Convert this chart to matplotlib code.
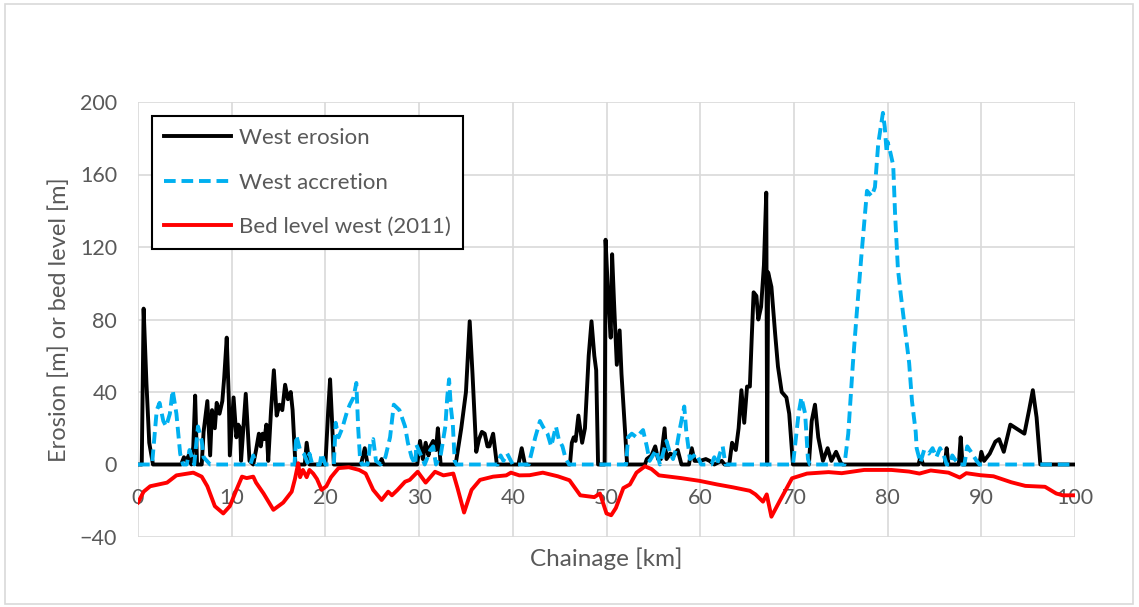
import matplotlib.pyplot as plt
from matplotlib.patches import Rectangle

# valores (chainage en km)
ero_km = [0, 0.4, 0.6, 0.9, 1.2, 1.6, 4.6, 4.9, 5.2, 5.4, 5.7, 5.9, 6.1, 6.3, 6.8, 7.0,
          7.4, 7.7, 7.9, 8.2, 8.4, 8.7, 9.0, 9.2, 9.47, 9.7, 9.8, 10.2, 10.5, 10.7, 10.9,
          11.0, 11.5, 11.8, 11.9, 12.3, 12.6, 12.9, 13.1, 13.3, 13.5, 13.7, 13.9, 14.2,
          14.5, 14.8, 15.1, 15.4, 15.7, 16.0, 16.3, 16.5, 16.8, 17.8, 18.0, 18.3, 20.0,
          20.3, 20.5, 20.7, 20.9, 23.8, 24.2, 24.5, 25.8, 26.0, 26.2, 29.8, 30.1, 30.4,
          30.7, 31.0, 31.2, 31.5, 31.8, 32.0, 32.3, 33.9, 34.5, 35.0, 35.4, 35.7, 36.1,
          36.4, 36.7, 37.0, 37.3, 37.5, 37.9, 38.3, 40.6, 40.95, 41.3, 46.1, 46.3, 46.5,
          46.7, 47.0, 47.4, 47.7, 48.1, 48.4, 48.7, 48.9, 49.1, 49.8, 49.9, 50.2, 50.45,
          50.6, 50.8, 51.1, 51.4, 51.6, 51.9, 52.2, 54.1, 54.3, 54.8, 55.2, 55.5, 55.8,
          56.2, 56.4, 56.8, 57.2, 57.6, 58.0, 58.8, 59.1, 59.4, 60.0, 60.6, 61.0, 61.5,
          62.3, 62.6, 63.1, 63.4, 63.8, 64.1, 64.4, 64.7, 65.0, 65.3, 65.5, 65.7, 66.0,
          66.2, 66.5, 66.8, 67.05, 67.15, 67.25, 67.6, 68.0, 68.3, 68.7, 69.2, 69.5, 69.9,
          71.6, 71.9, 72.25, 72.6, 73.1, 73.6, 74.0, 74.5, 75.0, 75.2, 83.3, 83.5, 83.8,
          86.1, 86.3, 86.5, 87.6, 87.8, 88.0, 89.8, 90.0, 90.3, 90.9, 91.5, 91.9, 92.4,
          93.1, 94.6, 95.1, 95.5, 95.9, 96.3, 100]
ero_val = [0, 0, 86, 45, 12, 0, 0, 4, 2, 5, 0, 10, 38, 0, 0, 18,
           35, 5, 30, 20, 34, 28, 35, 48, 70, 35, 5, 37, 15, 22, 20,
           2, 39, 12, 2, 0, 8, 17, 10, 17, 14, 22, 2, 30,
           52, 27, 33, 30, 44, 36, 40, 30, 0, 0, 12, 0, 0,
           30, 47, 25, 0, 0, 9, 0, 0, 3, 0, 0, 13, 3,
           12, 5, 10, 13, 8, 20, 0, 0, 20, 40, 79, 50, 7,
           14, 18, 17, 10, 10, 17, 0, 0, 9, 0, 0, 12, 15,
           13, 27, 12, 20, 60, 79, 60, 52, 0, 0, 124, 90, 70,
           116, 90, 55, 74, 50, 25, 0, 0, 3, 5, 10, 3, 3,
           20, 3, 6, 5, 8, 0, 0, 9, 2, 2, 3, 2, 0,
           2, 0, 0, 12, 8, 20, 41, 23, 43, 43, 70, 95, 93,
           80, 87, 110, 150, 0, 106, 98, 72, 54, 40, 37, 28, 0,
           0, 24, 33, 15, 2, 9, 2, 7, 1, 0, 0, 4, 0,
           0, 9, 0, 0, 15, 0, 0, 7, 2, 6, 12.6, 14, 7,
           22, 17, 30, 41, 26, 0, 0]

acc_km = [0, 1.5, 2.0, 2.3, 2.7, 3.0, 3.4, 3.7, 4.1, 4.5, 4.8, 5.2, 5.5, 6.0, 6.4, 6.8,
          7.0, 7.7, 12.0, 12.3, 12.6, 16.7, 16.9, 17.3, 17.7, 18.1, 18.3, 18.6, 19.4,
          19.6, 20.0, 20.9, 21.1, 21.4, 21.8, 22.3, 22.6, 23.0, 23.3, 23.5, 23.7, 23.9,
          24.5, 24.8, 25.1, 25.4, 25.9, 26.4, 26.9, 27.3, 27.9, 28.5, 28.8, 29.2, 29.6,
          29.7, 30.2, 30.6, 31.2, 31.5, 31.8, 32.3, 32.8, 33.0, 33.2, 33.4, 33.6, 33.8,
          34.0, 38.4, 38.7, 39.0, 39.4, 39.7, 40.0, 41.7, 42.4, 42.9, 43.2, 43.7, 44.1,
          44.6, 44.9, 45.3, 45.6, 46.0, 52.1, 52.3, 52.7, 53.2, 53.9, 54.3, 54.6, 55.3,
          55.7, 56.4, 56.8, 57.1, 57.5, 57.8, 58.3, 58.5, 58.9, 59.6, 60.1, 61.2, 61.5,
          61.8, 62.1, 62.4, 62.7, 69.9, 70.5, 70.8, 71.2, 71.5, 71.7, 75.4, 75.8, 76.3,
          76.7, 77.2, 77.8, 78.3, 78.65, 79.0, 79.5, 79.7, 79.9, 80.0, 80.3, 80.6, 80.8,
          81.1, 81.4, 81.8, 82.3, 82.6, 83.0, 83.1, 83.5, 83.9, 84.4, 84.8, 85.2, 85.6,
          86.0, 86.3, 86.7, 86.9, 87.3, 87.6, 88.2, 88.5, 88.9, 89.5, 89.8, 100]
acc_val = [0, 0, 30, 34, 24, 21, 28, 41, 28, 6, 0, 0, 8, 0, 21, 13,
           4, 0, 0, 5, 0, 0, 16, 8, 6, 1, 6, 0, 0,
           6, 0, 0, 23, 15, 20, 29, 33, 37, 45, 20, 3, 0,
           0, 12, 14, 2, 0, 4, 15, 33, 30, 21, 12, 4, 0,
           11, 5, 0, 8, 10, 0, 5, 21, 37, 47, 31, 22, 2,
           0, 0, 5, 2, 6, 3, 0, 0, 15, 24, 21, 17, 10,
           21, 14, 10, 4, 0, 0, 15, 17, 15, 19, 10, 2, 8,
           0, 13, 6, 3, 10, 19, 32, 19, 3, 6, 0, 0, 4,
           0, 6, 10, 0, 0, 28, 37, 28, 3, 0, 0, 17, 56,
           83, 115, 151, 148, 153, 177, 194, 186, 172, 178, 172, 165, 138,
           108, 94, 77, 56, 35, 18, 9, 1, 8, 6, 9, 4, 9,
           5, 0, 0, 5, 2, 0, 0, 10, 7, 2, 0, 0]

bed_km = [0, 0.6, 1.3, 3.1, 4.1, 5.9, 6.8, 7.4, 8.2, 9.1, 9.8, 10.5, 11.1, 11.6, 12.3,
          12.6, 13.4, 14.45, 15.5, 16.4, 16.75, 17.1, 17.3, 17.6, 18.0, 18.3, 18.7, 19.1,
          19.6, 20.1, 20.6, 21.4, 22.5, 23.6, 24.3, 25.1, 26.0, 26.7, 27.1, 27.7, 28.5,
          29.0, 29.85, 30.7, 31.7, 32.6, 33.65, 34.1, 34.8, 35.6, 36.5, 37.9, 39.3, 39.8,
          40.7, 41.8, 43.2, 44.8, 46.05, 47.2, 48.7, 49.3, 50.0, 50.5, 51.0, 51.8, 52.5,
          53.2, 54.1, 54.8, 55.6, 57.95, 59.9, 61.8, 63.5, 65.3, 65.9, 66.7, 67.1, 67.6,
          68.5, 69.8, 71.4, 73.7, 75.1, 77.5, 80.4, 82.3, 83.4, 84.6, 86.5, 87.7, 88.4,
          89.9, 91.3, 93.2, 94.7, 96.8, 98.0, 98.7, 100]
bed_val = [-21, -15, -12, -10, -6, -4.5, -6.7, -12, -23, -27, -23, -14, -6.7, -7.5, -6.7,
           -10, -16, -25, -21, -15, -8, 0.7, -7, -3, -7, -3, -5, -8,
           -14, -12, -7, -2, -1.5, -3, -5, -14, -19.6, -15, -17, -14, -9.5,
           -8.5, -4, -10, -4, -6, -5, -13, -26.5, -14, -8.5, -6.7, -6, -4.5,
           -6, -5.9, -4.5, -6.5, -8.7, -17, -18, -16, -27, -28, -24, -13, -11,
           -4.5, -1, -2.5, -6, -7.5, -9, -11, -12.6, -14.5, -16.5, -20.5, -16.5, -28.8,
           -20, -7.6, -5, -4.2, -4.8, -3, -3, -3.9, -5, -3.3, -4.5, -7.2, -4.8,
           -5.9, -6.5, -9.8, -11.8, -12.3, -16, -17, -17]

TEXT = "#595959"
GRID = "#d9d9d9"

plt.rcParams["font.family"] = ["Lato", "DejaVu Sans"]

fig = plt.figure(figsize=(11.39, 6.07), dpi=100)
ax = fig.add_axes([138 / 1139, 1 - 537 / 607, 937 / 1139, 435 / 607])

ax.plot(ero_km, ero_val, color="black", lw=2.8, label="West erosion", zorder=3)
ax.plot(acc_km, acc_val, color="#00B0F0", lw=2.8, dashes=(3.0, 1.5),
        label="West accretion", zorder=3)
ax.plot(bed_km, bed_val, color="#FF0000", lw=2.8, label="Bed level west (2011)", zorder=3)

ax.set_xlim(0, 100)
ax.set_ylim(-40, 200)
ax.set_xticks(range(0, 101, 10))
ax.set_yticks(range(-40, 201, 40))
ax.grid(True, color=GRID, lw=1.2)
ax.set_axisbelow(True)
for side in ["top", "right", "left"]:
    ax.spines[side].set_visible(False)
# las etiquetas del eje x van pegadas a y=0, como en Excel
ax.spines["bottom"].set_position(("data", 0))
ax.spines["bottom"].set_visible(False)
ax.tick_params(axis="both", length=0, colors=TEXT, labelsize=15.5)
ax.tick_params(axis="x", pad=17)
ax.tick_params(axis="y", pad=15)

ax.set_xlabel("Chainage [km]", color=TEXT, fontsize=17.5)
ax.set_ylabel("Erosion [m] or bed level [m]", color=TEXT, fontsize=17)
ax.xaxis.set_label_coords(0.5, -0.025)
ax.yaxis.set_label_coords(-0.073, 0.5)

leg = ax.legend(loc="upper left", bbox_to_anchor=(0.015, 0.968), borderaxespad=0,
                fontsize=16, fancybox=False, framealpha=1, edgecolor="black",
                handlelength=3.0, handletextpad=0.35, labelspacing=1.1,
                borderpad=0.55)
leg.get_frame().set_linewidth(1.5)
for t in leg.get_texts():
    t.set_color(TEXT)

fig.patches.append(Rectangle((5 / 1139, 3 / 607), 1128 / 1139, 600 / 607,
                             transform=fig.transFigure, fill=False,
                             edgecolor=GRID, lw=1.2))

fig.savefig("out.png", dpi=100)
